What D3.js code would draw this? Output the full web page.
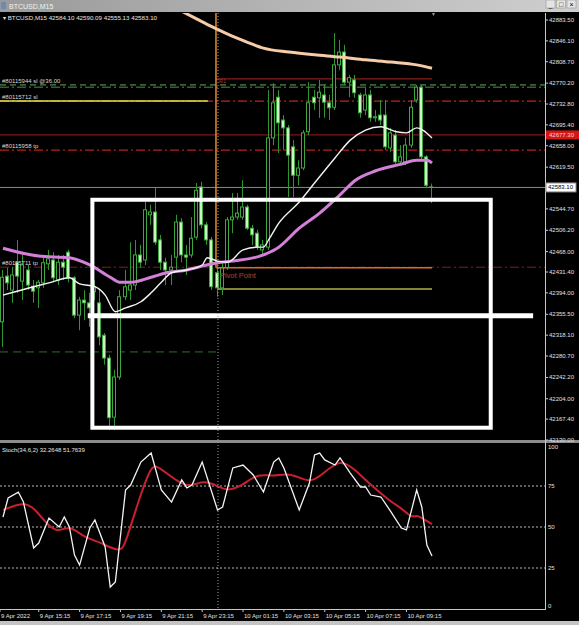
<!DOCTYPE html>
<html><head><meta charset="utf-8">
<script src="https://cdn.jsdelivr.net/npm/d3@7"></script>
<style>
body{margin:0;background:#000;overflow:hidden}
svg{display:block}
text{font-family:"Liberation Sans",Arial,sans-serif}
</style>
</head><body>
<svg id="c" width="579" height="625"></svg>
<script>
// ---------- DATA ----------
const symbol = "BTCUSD,M15";
const ohlcHeader = ["42584.10","42590.09","42555.13","42583.10"];
const openP = [42342,42424,42399,42449,42415,42435,42406,42403,42412,42446,
42453,42417,42449,42467,42421,42354,42381,42376,42396,42376,
42318,42277,42171,42243,42387,42399,42408,42462,42453,42534,
42539,42489,42449,42435,42458,42521,42462,42462,42494,42584,
42516,42489,42430,42403,42439,42525,42530,42530,42548,42510,
42501,42471,42476,42672,42745,42704,42690,42656,42605,42618,
42683,42745,42744,42749,42735,42727,42803,42826,42772,42776,
42749,42722,42749,42708,42713,42713,42654,42677,42629,42629,
42659,42740,42763,42638,42584.10];
const highP = [42435,42439,42440,42489,42462,42444,42417,42417,42462,42471,
42467,42462,42462,42471,42424,42387,42399,42394,42417,42399,
42322,42283,42256,42399,42435,42485,42489,42480,42557,42552,
42582,42498,42457,42462,42534,42528,42480,42530,42591,42593,
42521,42494,42449,42449,42530,42573,42573,42596,42552,42516,
42507,42489,42758,42770,42758,42713,42695,42668,42632,42686,
42772,42758,42776,42767,42749,42860,42848,42839,42785,42785,
42753,42762,42758,42722,42740,42740,42690,42686,42659,42672,
42740,42767,42767,42641,42590.09];
const lowP = [42297,42399,42376,42394,42381,42399,42376,42367,42403,42435,
42413,42408,42417,42413,42349,42327,42345,42333,42381,42300,
42265,42148,42148,42238,42381,42381,42399,42439,42444,42516,
42480,42435,42408,42408,42435,42449,42426,42457,42489,42510,
42480,42399,42387,42390,42435,42501,42525,42525,42507,42480,
42471,42462,42471,42659,42645,42650,42566,42566,42587,42614,
42677,42722,42708,42708,42704,42722,42794,42767,42745,42744,
42708,42713,42701,42701,42695,42650,42647,42623,42623,42623,
42654,42735,42632,42582,42555.13];
const closeP = [42422,42412,42426,42424,42444,42408,42397,42413,42448,42455,
42421,42449,42440,42421,42354,42381,42376,42367,42405,42315,
42277,42170,42243,42387,42405,42408,42462,42449,42543,42539,
42485,42449,42435,42440,42521,42462,42458,42492,42578,42516,
42489,42405,42403,42439,42525,42530,42537,42548,42510,42498,
42476,42480,42672,42735,42699,42690,42641,42605,42618,42681,
42735,42735,42754,42736,42726,42803,42826,42772,42780,42753,
42717,42749,42708,42710,42704,42656,42681,42629,42638,42659,
42727,42763,42638,42587,42583.10];

// moving averages [bar index, price]
const maSlow = [[34,42904],[38,42885],[41,42871],[44,42858],[48,42843],[51,42833],[56,42826],[61,42821],[66,42817],[71,42812],[76,42808],[81,42803],[84,42797]];
const maMid = [[0,42474],[7,42460],[13,42457],[17,42444],[21,42422],[23,42413],[25,42413],[29,42422],[32,42430],[36,42435],[39,42442],[42,42448],[45,42451],[51,42462],[54,42476],[58,42510],[62,42537],[66,42570],[69,42596],[73,42613],[78,42625],[81,42632],[83,42632],[84,42627]];
const maFast = [[0,42390],[6,42405],[9,42412],[13,42421],[15,42410],[18,42405],[20,42390],[22,42360],[24,42367],[27,42378],[29,42394],[31,42413],[33,42430],[36,42435],[39,42444],[40,42457],[42,42451],[44,42449],[47,42471],[50,42476],[51,42476],[52,42489],[54,42519],[58,42557],[61,42591],[65,42636],[68,42668],[71,42686],[74,42692],[77,42683],[79,42681],[81,42690],[84,42672]];

// stochastic [bar index, value]
const stochMain = [[0,56.1],[1,67.7],[3,71.3],[4,65.2],[6,37.2],[7,40.2],[9,55.5],[11,50],[12,56.1],[13,50],[14,32.9],[15,26.8],[17,49.4],[18,54.3],[20,37.8],[21,13.4],[22,16.5],[24,72.6],[25,75.6],[27,89.6],[29,95.1],[31,72.6],[33,65.2],[35,78.7],[36,73.8],[37,75.6],[39,89.6],[42,60.4],[43,62.2],[45,86],[47,87.8],[49,81.7],[51,71.3],[53,89.6],[54,92.1],[55,86],[58,60.4],[60,76.8],[61,93.9],[62,95.1],[63,90.9],[65,87.8],[66,92.1],[68,82.9],[70,74.4],[71,74.4],[72,69.5],[74,68.3],[76,59.1],[78,49.4],[79,48.2],[81,72.6],[82,62.2],[83,39],[84,32.26]];
const stochSignal = [[0,60.4],[4,65.2],[6,62.2],[9,50],[11,47],[13,51.2],[16,43.3],[19,40.9],[23,34.1],[24,40.2],[27,70.7],[29,86.6],[30,87.8],[33,80.5],[36,73.8],[39,78],[41,76.8],[44,71.3],[47,75.6],[50,82.9],[53,80.5],[56,83.5],[60,76.8],[62,80.5],[66,92.1],[69,84.8],[72,75.6],[76,65.2],[78,61.6],[80,55.5],[81,57.3],[82,55.5],[84,51.76]];
const stochTitle = "Stoch(34,6,2) 32.2648 51.7639";

const priceTicks = ["42883.50","42846.10","42808.70","42770.20","42732.80","42695.40","42658.00","42619.50","42544.70","42506.20","42468.00","42431.40","42394.00","42355.50","42318.10","42280.70","42242.20","42204.00","42167.40","42130.00"];
const stochTicks = [100,75,50,25,0];
const stochLevels = [75,50,25];
const timeLabels = [[-0.6,"9 Apr 2022"],[7,"9 Apr 15:15"],[15,"9 Apr 17:15"],[23,"9 Apr 19:15"],[31,"9 Apr 21:15"],[39,"9 Apr 23:15"],[47,"10 Apr 01:15"],[55,"10 Apr 03:15"],[63,"10 Apr 05:15"],[71,"10 Apr 07:15"],[79,"10 Apr 09:15"]];

// levels and objects
const bidPrice = 42583.10;
const alertPrice = 42677.30;
const slGreen = [42767, 42763];
const slRed = 42738;
const tpLevels = [42650, 42440];
const orderLabels = [["#80115944 sl @36.00",42767],["#80115712 sl",42738],["#80115958 tp",42650],["#80115711 tp",42440]];
const pivotR1 = 42778, pivotPP = 42439, pivotS1 = 42401;
const pivotStart = 41.7;
const yellowEnd = 40.1;
const greenDash = 42288, greenDashEnd = 42;
const vDotted = 42.1;
const boxI = [17.5, 95.5], boxP = [42561, 42152];
const barI = [16.6, 103.8], barPrice = 42353;

// ---------- DRAW ----------
const svg = d3.select("#c");
const W = 579, H = 625;
const plotR = 545, mainT = 13, mainB = 440, stT = 443, stB = 609;
const N = closeP.length;
const x = d3.scaleLinear().domain([0, N-1]).range([3, 432]);
const y = d3.scaleLinear().domain([42130, 42883.5]).range([440, 20]);
const ys = d3.scaleLinear().domain([0, 100]).range([609, 445]);

svg.append("rect").attr("width",W).attr("height",H).attr("fill","#000");
const defs = svg.append("defs");
defs.append("clipPath").attr("id","cm").append("rect").attr("x",0).attr("y",mainT).attr("width",plotR).attr("height",mainB-mainT);
defs.append("clipPath").attr("id","cs").append("rect").attr("x",0).attr("y",stT).attr("width",plotR).attr("height",stB-stT);

const gm = svg.append("g").attr("clip-path","url(#cm)");
const gs = svg.append("g").attr("clip-path","url(#cs)");

function hline(g, price, x0, x1, color, w, dash){
  g.append("line").attr("x1",x0).attr("x2",x1).attr("y1",y(price)).attr("y2",y(price))
   .attr("stroke",color).attr("stroke-width",w).attr("stroke-dasharray",dash||null);
}
// order / level lines
hline(gm, slGreen[0], 0, plotR, "#6aa86a", 1, "6,4");
hline(gm, slGreen[1], 0, plotR, "#3f9a3f", 1, "9,3,2,3");
hline(gm, slRed, 0, plotR, "#c42222", 1.2, "9,3,2,3");
hline(gm, slRed, 0, x(yellowEnd), "#e6e64a", 1.5);
hline(gm, alertPrice, 0, plotR, "#a41c1c", 1);
hline(gm, tpLevels[0], 0, plotR, "#b42222", 1.2, "9,3,2,3");
hline(gm, tpLevels[1], 0, plotR, "#7e2020", 1, "9,3,2,3");
hline(gm, bidPrice, 0, plotR, "#8a8a8a", 1);
hline(gm, greenDash, 0, x(greenDashEnd), "#2e6e2e", 1, "8,5");
hline(gm, pivotR1, x(pivotStart), x(N-1), "#8a1c1c", 1.2);
hline(gm, pivotS1, x(pivotStart)+2, x(N-1), "#b0b04a", 1.5);
// dotted vertical
svg.append("line").attr("x1",x(vDotted)).attr("x2",x(vDotted)).attr("y1",mainT).attr("y2",stB)
  .attr("stroke","#9a9a9a").attr("stroke-width",1).attr("stroke-dasharray","1,2");

// candles
const gC = gm.append("g");
d3.range(N).forEach(i=>{
  const cx = Math.round(x(i));
  const o=openP[i], c=closeP[i];
  gC.append("rect").attr("x",cx-1).attr("width",1).attr("y",y(highP[i])).attr("height",Math.max(1,y(lowP[i])-y(highP[i]))).attr("fill","#2f952f");
  const top = y(Math.max(o,c)), bot = y(Math.min(o,c));
  gC.append("rect").attr("x",cx-2.5).attr("width",3).attr("y",top).attr("height",Math.max(0.5,bot-top))
    .attr("fill", c < o ? "#c8f4c0" : "#000").attr("stroke","#3ea83e").attr("stroke-width",1);
});

// pivot point L line
gm.append("line").attr("x1",x(pivotStart)).attr("x2",x(pivotStart)).attr("y1",mainT).attr("y2",y(pivotPP))
  .attr("stroke","#e8892e").attr("stroke-width",1.5);
hline(gm, pivotPP, x(pivotStart), x(N-1), "#d07030", 1.5);

// moving averages
const lineG = d3.line().x(d=>x(d[0])).y(d=>y(d[1])).curve(d3.curveMonotoneX);
gm.append("path").attr("d",lineG(maSlow)).attr("fill","none").attr("stroke","#f6cba8").attr("stroke-width",3);
gm.append("path").attr("d",lineG(maMid)).attr("fill","none").attr("stroke","#d47fd8").attr("stroke-width",3);
gm.append("path").attr("d",lineG(maFast)).attr("fill","none").attr("stroke","#f4f4f4").attr("stroke-width",1.4);

// drawn rectangle and thick bar
gm.append("rect").attr("x",x(boxI[0])).attr("y",y(boxP[0])).attr("width",x(boxI[1])-x(boxI[0])).attr("height",y(boxP[1])-y(boxP[0]))
  .attr("fill","none").attr("stroke","#fff").attr("stroke-width",4);
gm.append("line").attr("x1",x(barI[0])).attr("x2",x(barI[1])).attr("y1",y(barPrice)).attr("y2",y(barPrice))
  .attr("stroke","#fff").attr("stroke-width",5);

// text in main
gm.append("text").attr("x",3).attr("y",20).attr("fill","#e6e6e6").attr("font-size",6.2)
  .text("\u25BE " + symbol + "  " + ohlcHeader.join(" "));
orderLabels.forEach(d=>{
  gm.append("text").attr("x",2).attr("y",y(d[1])-2).attr("fill","#d8d8d8").attr("font-size",6).text(d[0]);
});
gm.append("text").attr("x",x(pivotStart)+3).attr("y",y(pivotR1)+4).attr("fill","#b03030").attr("font-size",5.5).text("R1");
gm.append("text").attr("x",x(pivotStart)+4).attr("y",y(pivotPP)+10).attr("fill","#b8402c").attr("font-size",7.5).text("Pivot Point");
// chart shift marker
svg.append("path").attr("d",`M${x(N-1)},13 l3,0 l-1.5,3 z`).attr("fill","#9a9a9a");

// stochastic
stochLevels.forEach(v=>{
  gs.append("line").attr("x1",0).attr("x2",plotR).attr("y1",ys(v)).attr("y2",ys(v))
    .attr("stroke","#b8b8b8").attr("stroke-width",1).attr("stroke-dasharray","2,2");
});
const lineS = d3.line().x(d=>x(d[0])).y(d=>ys(d[1]));
gs.append("path").attr("d",lineS.curve(d3.curveBasis)(stochSignal)).attr("fill","none").attr("stroke","#c8202e").attr("stroke-width",2);
gs.append("path").attr("d",d3.line().x(d=>x(d[0])).y(d=>ys(d[1]))(stochMain)).attr("fill","none").attr("stroke","#f4f4f4").attr("stroke-width",1.3);
gs.append("text").attr("x",2).attr("y",452).attr("fill","#e6e6e6").attr("font-size",6).text(stochTitle);

// frames
svg.append("rect").attr("x",0).attr("y",440).attr("width",W).attr("height",3).attr("fill","#8c8c8c");
svg.append("line").attr("x1",plotR+0.5).attr("x2",plotR+0.5).attr("y1",mainT).attr("y2",stB+1).attr("stroke","#c8c8c8");
svg.append("line").attr("x1",0).attr("x2",plotR).attr("y1",stB+0.5).attr("y2",stB+0.5).attr("stroke","#c8c8c8");

// price axis
priceTicks.forEach(t=>{
  const yy = y(+t);
  svg.append("line").attr("x1",plotR).attr("x2",plotR+3).attr("y1",yy).attr("y2",yy).attr("stroke","#c8c8c8");
  svg.append("text").attr("x",plotR+4).attr("y",yy+2).attr("fill","#e0e0e0").attr("font-size",6).text(t);
});
// red alert label
svg.append("rect").attr("x",plotR+1).attr("y",y(alertPrice)-4.5).attr("width",33).attr("height",9).attr("fill","#d01818");
svg.append("text").attr("x",plotR+4).attr("y",y(alertPrice)+2).attr("fill","#ffd0d0").attr("font-size",6).text(alertPrice.toFixed(2));
// bid label
svg.append("rect").attr("x",plotR+1).attr("y",y(bidPrice)-4.5).attr("width",30).attr("height",9).attr("fill","#fff").attr("stroke","#888");
svg.append("text").attr("x",plotR+3).attr("y",y(bidPrice)+2).attr("fill","#000").attr("font-size",6).text(bidPrice.toFixed(2));

// stoch axis
stochTicks.forEach(v=>{
  const yy = Math.min(Math.max(ys(v),447),606);
  svg.append("text").attr("x",plotR+3).attr("y",yy+2).attr("fill","#e0e0e0").attr("font-size",6).text(v);
});

// time axis
timeLabels.forEach(d=>{
  const xx = x(d[0]);
  svg.append("line").attr("x1",xx).attr("x2",xx).attr("y1",stB).attr("y2",stB+3).attr("stroke","#c8c8c8");
  svg.append("text").attr("x",Math.max(1,xx+1)).attr("y",618).attr("fill","#e0e0e0").attr("font-size",6).text(d[1]);
});
svg.append("rect").attr("x",0).attr("y",621).attr("width",W).attr("height",4).attr("fill","#c4c4c4");

// title bar
const grad = defs.append("linearGradient").attr("id","tb").attr("x1",0).attr("y1",0).attr("x2",1).attr("y2",0);
grad.append("stop").attr("offset","0%").attr("stop-color","#9a9a9a");
grad.append("stop").attr("offset","100%").attr("stop-color","#cfcfcf");
svg.append("rect").attr("x",0).attr("y",0).attr("width",W).attr("height",12).attr("fill","url(#tb)");
svg.append("rect").attr("x",1).attr("y",2).attr("width",5).attr("height",7).attr("fill","#6a8ab8");
svg.append("text").attr("x",9).attr("y",9).attr("fill","#f0f0f0").attr("font-size",7).text(symbol);
["_","\u25A1","\u00D7"].forEach((s,k)=>{
  const bx = 546 + k*10.5;
  svg.append("rect").attr("x",bx).attr("y",0).attr("width",9).attr("height",8).attr("fill","#e4e4e4").attr("stroke","#888").attr("stroke-width",0.5);
  svg.append("text").attr("x",bx+4.5).attr("y",6.5).attr("text-anchor","middle").attr("fill","#000").attr("font-size",7).text(s);
});
</script>
</body></html>
